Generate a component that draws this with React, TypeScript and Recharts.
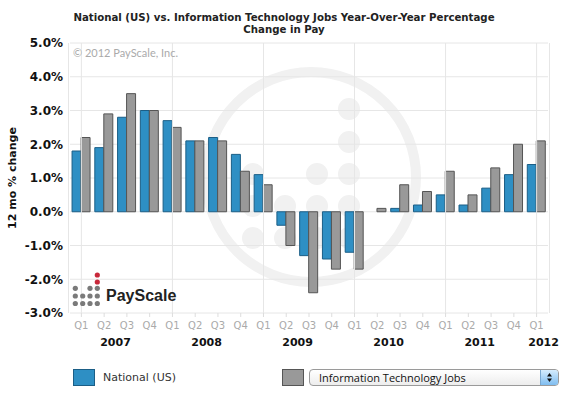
import { BarChart, Bar, XAxis, YAxis, CartesianGrid, ReferenceLine, Label } from 'recharts';

// ── Data ──────────────────────────────────────────────────────────────────────

const quarters = ['Q1', 'Q2', 'Q3', 'Q4', 'Q1', 'Q2', 'Q3', 'Q4', 'Q1', 'Q2', 'Q3', 'Q4', 'Q1', 'Q2', 'Q3', 'Q4', 'Q1', 'Q2', 'Q3', 'Q4', 'Q1'];
const years = [2007, 2007, 2007, 2007, 2008, 2008, 2008, 2008, 2009, 2009, 2009, 2009, 2010, 2010, 2010, 2010, 2011, 2011, 2011, 2011, 2012];
const national = [1.8, 1.9, 2.8, 3.0, 2.7, 2.1, 2.2, 1.7, 1.1, -0.4, -1.3, -1.4, -1.2, null, 0.1, 0.2, 0.5, 0.2, 0.7, 1.1, 1.4];
const itJobs = [2.2, 2.9, 3.5, 3.0, 2.5, 2.1, 2.1, 1.2, 0.8, -1.0, -2.4, -1.7, -1.7, 0.1, 0.8, 0.6, 1.2, 0.5, 1.3, 2.0, 2.1];
const yTicks = [-3, -2, -1, 0, 1, 2, 3, 4, 5];

const data = quarters.map((q, i) => ({
  id: `${q} ${years[i]}`,
  q,
  year: years[i],
  national: national[i],
  it: itJobs[i],
}));

const yearCount: Record<number, number> = {};
years.forEach((y) => { yearCount[y] = (yearCount[y] || 0) + 1; });

const GRID = '#e6e6e6';
const FONT = 'DejaVu Sans, Verdana, sans-serif';

// ── Ticks ─────────────────────────────────────────────────────────────────────

function QuarterTick({ x, y, payload }: any) {
  const row = data[payload.index];
  const band = 22.75;
  let yearX: number | null = null;
  if (yearCount[row.year] >= 3 && row.q === 'Q2') yearX = x + band / 2;
  else if (yearCount[row.year] < 3 && row.q === 'Q1') yearX = x + 7;
  return (
    <g>
      <text x={x} y={y + 10} textAnchor="middle" fontSize={10} fill="#aaaaaa" fontFamily={FONT}>
        {row.q}
      </text>
      {yearX !== null && (
        <text x={yearX} y={y + 27} textAnchor="middle" fontSize={11} fontWeight="bold" fill="#111" fontFamily={FONT}>
          {row.year}
        </text>
      )}
    </g>
  );
}

function YLabel({ viewBox }: any) {
  const cy = viewBox.y + viewBox.height / 2;
  return (
    <text x={16} y={cy} transform={`rotate(-90, 16, ${cy})`} textAnchor="middle" fontSize={11} fontWeight="bold" fill="#111" fontFamily={FONT}>
      12 mo % change
    </text>
  );
}

// ── Watermark ─────────────────────────────────────────────────────────────────

const wmDots = [
  [349, 109], [349, 142],
  [253, 174], [317, 174], [349, 174],
  [253, 206], [285, 206], [317, 206], [349, 206],
  [253, 238], [285, 238], [317, 238], [349, 238],
];

function Watermark() {
  return (
    <svg width={568} height={355} style={{ position: 'absolute', left: 0, top: 0 }}>
      <circle cx={311} cy={177} r={105} fill="none" stroke="#f1f1f1" strokeWidth={10} />
      {wmDots.map(([cx, cy], i) => (
        <circle key={i} cx={cx} cy={cy} r={11} fill="#f1f1f1" />
      ))}
    </svg>
  );
}

const logoDots = [
  [75.3, 288.3], [90, 288.3], [97.3, 288.3],
  [75.3, 296], [82.7, 296], [90, 296], [97.3, 296],
  [75.3, 303.5], [82.7, 303.5], [90, 303.5], [97.3, 303.5],
];

function Overlay() {
  return (
    <svg width={568} height={355} style={{ position: 'absolute', left: 0, top: 0, pointerEvents: 'none' }}>
      <text x={284} y={21} textAnchor="middle" fontSize={10.2} fontWeight="bold" fill="#222" fontFamily={FONT}>
        National (US) vs. Information Technology Jobs Year-Over-Year Percentage
      </text>
      <text x={284} y={33} textAnchor="middle" fontSize={10.2} fontWeight="bold" fill="#222" fontFamily={FONT}>
        Change in Pay
      </text>
      <text x={73} y={57} fontSize={11} fill="#aaaaaa" fontFamily="Lato, sans-serif">
        © 2012 PayScale, Inc.
      </text>
      <circle cx={97.3} cy={275} r={2.6} fill="#c8283a" />
      <circle cx={97.3} cy={282} r={2.6} fill="#c8283a" />
      {logoDots.map(([cx, cy], i) => (
        <circle key={i} cx={cx} cy={cy} r={2.6} fill="#7a7a7a" />
      ))}
      <text x={106} y={300.5} fontSize={16} fontWeight="bold" fill="#222" fontFamily="Liberation Sans, Arial, sans-serif">
        PayScale
      </text>
    </svg>
  );
}

// ── Legend ────────────────────────────────────────────────────────────────────

function Legend() {
  const swatch = (fill: string, border: string, left: number) => (
    <div style={{ position: 'absolute', left, top: 369, width: 20, height: 15, background: fill, border: `1px solid ${border}` }} />
  );
  return (
    <>
      {swatch('#2e8fc4', '#1b5e86', 73)}
      <div style={{ position: 'absolute', left: 103, top: 369, fontSize: 11, lineHeight: '17px', color: '#333', fontFamily: FONT }}>
        National (US)
      </div>
      {swatch('#999999', '#555555', 282)}
      <div style={{
        position: 'absolute', left: 309, top: 369, width: 248, height: 15,
        border: '1px solid #9a9a9a', borderRadius: 4,
        background: 'linear-gradient(#ffffff, #ededed)', overflow: 'hidden',
      }}>
        <div style={{ position: 'absolute', left: 9, top: 0, fontSize: 11, lineHeight: '15px', color: '#111', fontFamily: 'Open Sans, sans-serif' }}>
          Information Technology Jobs
        </div>
        <div style={{
          position: 'absolute', right: 0, top: 0, width: 17, height: 15,
          background: 'linear-gradient(#d5ecfd, #7fbdf0)', borderLeft: '1px solid #7aa8d0',
        }}>
          <svg width={17} height={15}>
            <path d="M8.5 3 L11 6.5 L6 6.5 Z" fill="#111" />
            <path d="M8.5 12 L11 8.5 L6 8.5 Z" fill="#111" />
          </svg>
        </div>
      </div>
    </>
  );
}

// ── Chart ─────────────────────────────────────────────────────────────────────

export default function App() {
  return (
    <div style={{ position: 'absolute', left: 0, top: 0, width: 568, height: 395, background: '#fff', overflow: 'hidden' }}>
      <Watermark />
      <div style={{ position: 'absolute', left: 0, top: 0 }}>
        <BarChart
          width={568}
          height={355}
          data={data}
          margin={{ top: 43, right: 20, left: 0, bottom: 0 }}
          barCategoryGap="9%"
          barGap={0}
        >
          <CartesianGrid
            stroke={GRID}
            strokeWidth={1}
            horizontal
            vertical
            verticalCoordinatesGenerator={({ offset }: any) => [offset.left - 1.5, offset.left + offset.width + 1.5]}
          />
          {data.filter((d) => d.q === 'Q1').map((d) => (
            <ReferenceLine key={d.id} x={d.id} stroke={GRID} strokeWidth={1} ifOverflow="visible" />
          ))}
          <XAxis
            dataKey="id"
            interval={0}
            height={42}
            axisLine={false}
            tickLine={{ stroke: '#dddddd' }}
            tickSize={4}
            tickMargin={2}
            tick={<QuarterTick />}
          />
          <YAxis
            width={70}
            domain={[-3, 5]}
            ticks={yTicks}
            interval={0}
            axisLine={false}
            tickLine={false}
            tickSize={0}
            tickMargin={7}
            tickFormatter={(v: number) => `${v.toFixed(1)}%`}
            tick={{ fontSize: 12, fontWeight: 'bold', fill: '#111', fontFamily: FONT }}
          >
            <Label content={<YLabel />} />
          </YAxis>
          <Bar dataKey="national" fill="#2e8fc4" stroke="#1b5e86" strokeWidth={1} isAnimationActive={false} />
          <Bar dataKey="it" fill="#999999" stroke="#555555" strokeWidth={1} isAnimationActive={false} />
        </BarChart>
      </div>
      <Overlay />
      <Legend />
    </div>
  );
}
